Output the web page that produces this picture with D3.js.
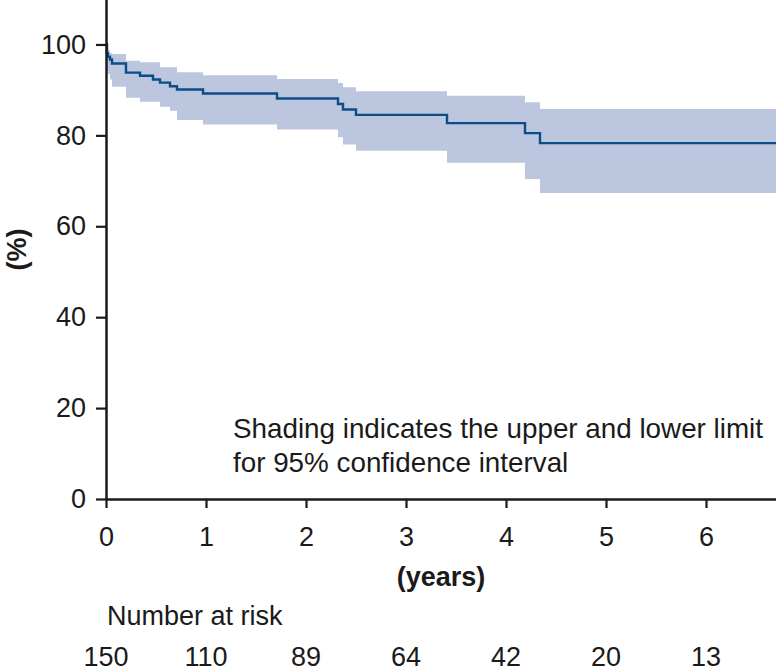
<!DOCTYPE html>
<html>
<head>
<meta charset="utf-8">
<script src="https://cdn.jsdelivr.net/npm/d3@7"></script>
<style>
  body { margin: 0; background: #fff; }
  svg text { font-family: "Liberation Sans", Arial, sans-serif; fill: #1a1a1a; }
</style>
</head>
<body>
<svg id="chart" width="776" height="671"></svg>
<script>
// ---- data ----
const stepTimes = [0, 0.01, 0.02, 0.04, 0.06, 0.20, 0.34, 0.47, 0.54, 0.64, 0.71, 0.97, 1.71, 2.32, 2.37, 2.50, 3.41, 4.19, 4.34];
const survival  = [100, 98.0, 97.3, 96.7, 95.8, 93.8, 93.1, 92.3, 91.6, 90.8, 90.1, 89.2, 88.1, 86.9, 85.7, 84.5, 82.7, 80.5, 78.3];
const upperCI   = [100, 99.4, 98.7, 98.1, 97.9, 96.4, 96.1, 96.1, 95.0, 95.0, 93.9, 93.2, 92.4, 91.5, 90.6, 89.7, 88.7, 87.3, 85.8];
const lowerCI   = [100, 94.5, 93.5, 92.3, 90.7, 88.3, 87.4, 87.4, 86.3, 85.4, 83.4, 82.4, 81.3, 79.6, 78.0, 76.6, 74.0, 70.4, 67.3];
const followUpEnd = 6.7;
const xTicks = [0, 1, 2, 3, 4, 5, 6];
const yTicks = [0, 20, 40, 60, 80, 100];
const riskTimes = [0, 1, 2, 3, 4, 5, 6];
const numberAtRisk = [150, 110, 89, 64, 42, 20, 13];
const xTitle = "(years)";
const yTitle = "(%)";
const riskTitle = "Number at risk";
const noteLines = ["Shading indicates the upper and lower limit", "for 95% confidence interval"];

// ---- layout ----
const svg = d3.select("#chart");
const mLeft = 106, mRight = 776, mTop = -1, mBottom = 499;
const FS = "27px";
const x = d3.scaleLinear().domain([0, followUpEnd]).range([mLeft, mRight]);
const y = d3.scaleLinear().domain([0, 110]).range([mBottom, mTop]);

const pts = stepTimes.map((t, i) => ({ t, s: survival[i], lo: lowerCI[i], hi: upperCI[i] }));
pts.push({ t: followUpEnd, s: survival[survival.length - 1], lo: lowerCI[lowerCI.length - 1], hi: upperCI[upperCI.length - 1] });

// CI band
const area = d3.area()
  .curve(d3.curveStepAfter)
  .x(d => x(d.t))
  .y0(d => y(d.lo))
  .y1(d => y(d.hi));
svg.append("path").datum(pts).attr("d", area).attr("fill", "#bcc6de");

// KM line
const line = d3.line().curve(d3.curveStepAfter).x(d => x(d.t)).y(d => y(d.s));
svg.append("path").datum(pts).attr("d", line)
  .attr("fill", "none").attr("stroke", "#0b4d86").attr("stroke-width", 2.4);

// axes
const yAxis = d3.axisLeft(y).tickValues(yTicks).tickFormat(d3.format("d"))
  .tickSize(10).tickPadding(10).tickSizeOuter(0);
const gy = svg.append("g").attr("transform", `translate(${mLeft},0)`).call(yAxis);
const xAxis = d3.axisBottom(x).tickValues(xTicks).tickFormat(d3.format("d"))
  .tickSize(9).tickPadding(19).tickSizeOuter(0);
const gx = svg.append("g").attr("transform", `translate(0,${mBottom})`).call(xAxis);
[gy, gx].forEach(g => {
  g.select(".domain").attr("stroke", "#1a1a1a").attr("stroke-width", 2.5);
  g.selectAll(".tick line").attr("stroke", "#1a1a1a").attr("stroke-width", 2.2);
  g.selectAll(".tick text").style("font-size", FS).attr("fill", "#1a1a1a");
});

// axis titles
svg.append("text").attr("x", (mLeft + mRight) / 2).attr("y", 586)
  .attr("text-anchor", "middle").style("font-size", FS).style("font-weight", "bold").text(xTitle);
svg.append("text").attr("transform", `translate(26,${(0 + mBottom) / 2}) rotate(-90)`)
  .attr("text-anchor", "middle").style("font-size", FS).style("font-weight", "bold").text(yTitle);

// note
svg.append("g").selectAll("text").data(noteLines).join("text")
  .attr("x", 233).attr("y", (d, i) => 438 + i * 34)
  .style("font-size", "27.8px").text(d => d);

// number at risk
svg.append("text").attr("x", 107).attr("y", 625).style("font-size", FS).text(riskTitle);
svg.append("g").selectAll("text").data(numberAtRisk).join("text")
  .attr("x", (d, i) => x(riskTimes[i])).attr("y", 666)
  .attr("text-anchor", "middle").style("font-size", FS).text(d => d);
</script>
</body>
</html>
